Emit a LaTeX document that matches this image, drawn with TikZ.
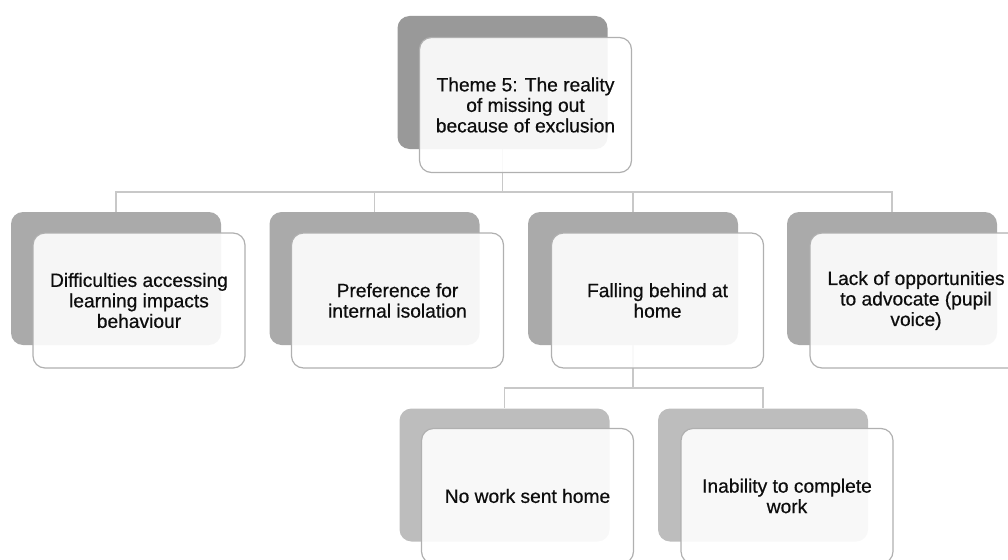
\documentclass[tikz,border=0pt]{standalone}
\usepackage{fontspec}
\setmainfont{Liberation Sans}[FakeBold=0.6]
\usepackage{tikz}
\usetikzlibrary{positioning, calc}
\definecolor{ThemeGray}{HTML}{999999}
\definecolor{SubGray}{HTML}{AAAAAA}
\definecolor{LeafGray}{HTML}{BDBDBD}
\definecolor{EdgeGray}{HTML}{B0B0B0}
\definecolor{LinkGray}{HTML}{C8C8C8}
\definecolor{InkBlack}{HTML}{0D0D0D}

\begin{document}
\begin{tikzpicture}[x=1pt, y=-1pt,
        backbox/.style={rectangle, rounded corners=12pt, draw=none, inner sep=0pt,
            minimum width=210pt, minimum height=133pt},
        frontbox/.style={rectangle, rounded corners=12pt, draw=EdgeGray, line width=1.2pt,
            fill=white, fill opacity=0.9, text opacity=1, text=InkBlack, inner sep=0pt,
            minimum width=212pt, minimum height=135pt, align=center,
            font=\fontsize{19.2}{20.5}\selectfont},
        link/.style={draw=LinkGray, line width=1.5pt}]
        % Fixed frame matching the reference canvas
        \useasboundingbox (0,0) rectangle (1008,559);

        % Shadow boxes (back layer)
        \node[backbox, fill=ThemeGray] (themeB) at (502.5,82.5) {};
        \node[backbox, fill=SubGray] (diffB) at (116,278.5) {};
        \node[backbox, fill=SubGray] (prefB) at (374.5,278.5) {};
        \node[backbox, fill=SubGray] (fallB) at (633,278.5) {};
        \node[backbox, fill=SubGray] (voiceB) at (892,278.5) {};
        \node[backbox, fill=LeafGray] (noworkB) at (504.5,475) {};
        \node[backbox, fill=LeafGray] (unableB) at (763,475) {};

        % Bus coordinates for the elbow connectors
        \coordinate (busTop) at (502.5,192);
        \coordinate (busHome) at (633,388);

        % Connectors: theme to sub-themes
        \draw[link] (themeB.south) -- (busTop);
        \foreach \sub in {diffB, prefB, fallB, voiceB}
            \draw[link] (busTop) -| (\sub.north);

        % Connectors: falling behind to its two leaves
        \draw[link] (fallB.south) -- (busHome);
        \foreach \leaf in {noworkB, unableB}
            \draw[link] (busHome) -| (\leaf.north);

        % Text boxes (front layer)
        \node[frontbox] (theme) at (525.5,105) {Theme 5: The reality\\of missing out\\because of exclusion};
        \node[frontbox] (diff) at (139,300.5) {Difficulties accessing\\learning impacts\\behaviour};
        \node[frontbox] (pref) at (397.5,300.5) {Preference for\\internal isolation};
        \node[frontbox] (fall) at (657.5,300.5) {Falling behind at\\home};
        \node[frontbox] (voice) at (916,300.5) {Lack of opportunities\\to advocate (pupil\\voice)};
        \node[frontbox] (nowork) at (527.5,496) {No work sent home};
        \node[frontbox] (unable) at (787,496) {Inability to complete\\work};
    \end{tikzpicture}
\end{document}
